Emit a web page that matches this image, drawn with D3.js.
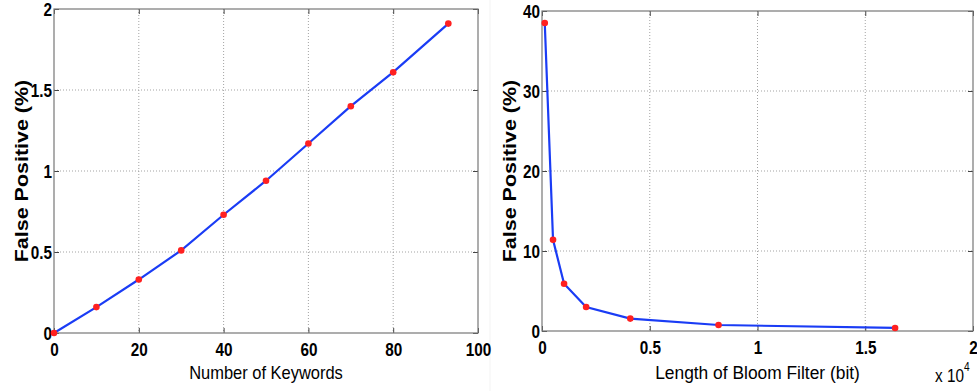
<!DOCTYPE html>
<html><head><meta charset="utf-8">
<script src="https://cdn.jsdelivr.net/npm/d3@7"></script>
<style>
body{margin:0;background:#fff;}
svg{display:block;}
</style></head>
<body><svg id="c" width="977" height="391"></svg>
<script>
// Left chart data
const keywordsX = [0, 10, 20, 30, 40, 50, 60, 70, 80, 93];
const keywordsFP = [0, 0.16, 0.33, 0.51, 0.73, 0.94, 1.17, 1.40, 1.61, 1.91];
const leftXTicks = [0, 20, 40, 60, 80, 100];
const leftYTicks = [0, 0.5, 1, 1.5, 2];
// Right chart data
const bloomLen = [128, 512, 1024, 2048, 4096, 8192, 16384];
const bloomFP = [38.5, 11.4, 5.9, 3.0, 1.55, 0.75, 0.38];
const rightXTicks = [0, 5000, 10000, 15000, 20000];
const rightYTicks = [0, 10, 20, 30, 40];

const FONT = "'Liberation Sans',Arial,sans-serif";
const svg = d3.select("#c");
svg.append("line").attr("x1",490).attr("x2",490).attr("y1",0).attr("y2",391)
  .attr("stroke","#f3f3f3").attr("stroke-width",1);

function panel(o){
  const g = svg.append("g");
  const x = d3.scaleLinear().domain(o.xd).range([o.l, o.r]);
  const y = d3.scaleLinear().domain(o.yd).range([o.b, o.t]);
  // grid
  g.selectAll(".gx").data(o.xt.slice(1,-1)).join("line")
    .attr("x1",d=>x(d)).attr("x2",d=>x(d)).attr("y1",o.t).attr("y2",o.b)
    .attr("stroke","#999").attr("stroke-width",0.9).attr("stroke-dasharray","1,2");
  g.selectAll(".gy").data(o.yt.slice(1,-1)).join("line")
    .attr("x1",o.l).attr("x2",o.r).attr("y1",d=>y(d)).attr("y2",d=>y(d))
    .attr("stroke","#999").attr("stroke-width",0.9).attr("stroke-dasharray","1,2");
  // axes
  const ax = g.append("g").attr("transform",`translate(0,${o.b})`)
    .call(d3.axisBottom(x).tickValues(o.xt).tickFormat(o.xf).tickSizeInner(-5).tickSizeOuter(0));
  const ay = g.append("g").attr("transform",`translate(${o.l},0)`)
    .call(d3.axisLeft(y).tickValues(o.yt).tickFormat(o.yf).tickSizeInner(-5).tickSizeOuter(0));
  const at = g.append("g").attr("transform",`translate(0,${o.t})`)
    .call(d3.axisTop(x).tickValues(o.xt).tickFormat("").tickSizeInner(-5).tickSizeOuter(0));
  const ar = g.append("g").attr("transform",`translate(${o.r},0)`)
    .call(d3.axisRight(y).tickValues(o.yt).tickFormat("").tickSizeInner(-5).tickSizeOuter(0));
  [ax,ay,at,ar].forEach(a=>{a.select(".domain").remove();a.selectAll("line").attr("stroke","#444");a.attr("font-family",FONT);});
  const sx = 0.85;
  ax.selectAll("text").attr("font-size",18).attr("font-weight","bold").attr("fill","#000")
    .attr("y",23).attr("dy",0).attr("x",0).attr("transform",`scale(${sx},1)`);
  ay.selectAll("text").attr("font-size",18).attr("font-weight","bold").attr("fill","#000")
    .attr("x",-2/sx).attr("dy","0.36em").attr("transform",`scale(${sx},1)`);
  g.append("rect").attr("x",o.l).attr("y",o.t).attr("width",o.r-o.l).attr("height",o.b-o.t)
    .attr("fill","none").attr("stroke","#777").attr("stroke-width",1.2);
  // line
  const pts = o.xs.map((d,i)=>[d,o.ys[i]]);
  g.append("path").datum(pts).attr("fill","none").attr("stroke","#1a3cf5").attr("stroke-width",2.2)
    .attr("d",d3.line().x(d=>x(d[0])).y(d=>y(d[1])));
  g.selectAll(".pt").data(pts).join("circle").attr("cx",d=>x(d[0])).attr("cy",d=>y(d[1])).attr("r",3.3)
    .attr("fill","#ff2020");
  // labels
  g.append("text").attr("transform",`translate(${(o.l+o.r)/2},379) scale(${o.xls},1)`).attr("text-anchor","middle")
    .attr("font-family",FONT).attr("font-size",18.5)
    .attr("fill","#000").text(o.xl);
  g.append("text").attr("transform",`translate(${o.l-26.5},${(o.t+o.b)/2}) rotate(-90) scale(1.13,1)`).attr("text-anchor","middle")
    .attr("font-family",FONT).attr("font-weight","bold").attr("font-size",19)
    .attr("fill","#000").text(o.yl);
  return {x,y,g};
}

panel({l:54,r:478,t:9,b:333,xd:[0,100],yd:[0,2],xt:leftXTicks,yt:leftYTicks,
  xf:d3.format("d"),yf:d=>String(d),xs:keywordsX,ys:keywordsFP,
  xl:"Number of Keywords",yl:"False Positive (%)",xls:0.89});
const R = panel({l:542,r:973,t:11,b:331,xd:[0,20000],yd:[0,40],xt:rightXTicks,yt:rightYTicks,
  xf:d=>String(d/10000),yf:d3.format("d"),xs:bloomLen,ys:bloomFP,
  xl:"Length of Bloom Filter (bit)",yl:"False Positive (%)",xls:0.94});
const ex = R.g.append("text").attr("transform","translate(935,382) scale(0.85,1)")
  .attr("font-family",FONT).attr("font-size",18).attr("fill","#000");
ex.append("tspan").text("x 10");
ex.append("tspan").attr("dy",-11).attr("font-size",12).text("4");
</script></body></html>
